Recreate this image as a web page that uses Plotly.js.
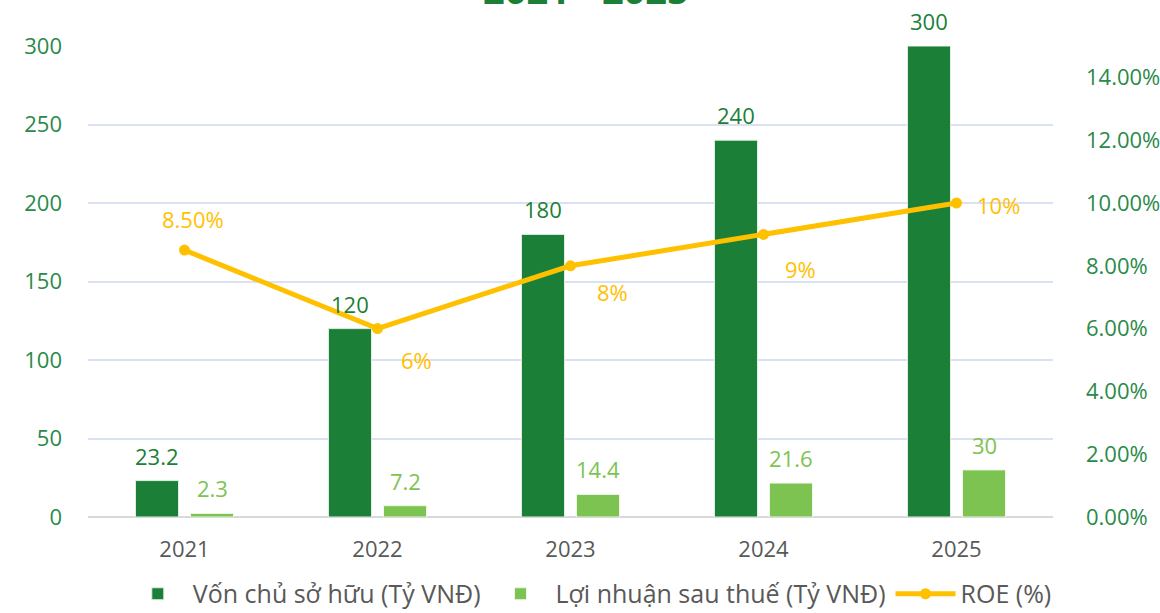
<!DOCTYPE html>
<html>
<head>
<meta charset="utf-8">
<script src="https://cdn.plot.ly/plotly-3.0.1.min.js"></script>
<style>html,body{margin:0;padding:0;background:#fff;}#chart{width:1160px;height:613px;}</style>
</head>
<body>
<div id="chart"></div>
<script>
const years = ['2021', '2022', '2023', '2024', '2025'];
const vonChuSoHuu = [23.2, 120, 180, 240, 300];
const loiNhuan = [2.3, 7.2, 14.4, 21.6, 30];
const roe = [0.085, 0.06, 0.08, 0.09, 0.10];
const roeLabels = ['8.50%', '6%', '8%', '9%', '10%'];
const leftTicks = [0, 50, 100, 150, 200, 250, 300];
const rightTicks = [0, 0.02, 0.04, 0.06, 0.08, 0.10, 0.12, 0.14];
const rightTickText = ['0.00%', '2.00%', '4.00%', '6.00%', '8.00%', '10.00%', '12.00%', '14.00%'];
const titleText = '2021 - 2025';

const FONT = 'Open Sans, Noto Sans, sans-serif';
const DARK = '#1B7F37';
const LIGHT = '#7DC352';
const GOLD = '#FFC000';

// label offsets (pixels) for ROE labels, Excel-like placement
const roeShift = [[8, 31], [39, -31], [42, -26], [37, -35], [42, -2]];

const traces = [
  {
    type: 'bar', name: 'Vốn chủ sở hữu (Tỷ VNĐ)', x: years, y: vonChuSoHuu,
    marker: {color: DARK, line: {color: '#dfeee3', width: 1}}, hoverinfo: 'x+y'
  },
  {
    type: 'bar', name: 'Lợi nhuận sau thuế (Tỷ VNĐ)', x: years, y: loiNhuan,
    marker: {color: LIGHT, line: {color: '#eef7e8', width: 1}}, hoverinfo: 'x+y'
  },
  {
    type: 'scatter', mode: 'lines+markers', name: 'ROE (%)', x: years, y: roe, yaxis: 'y2',
    line: {color: GOLD, width: 5}, marker: {color: GOLD, size: 11}, cliponaxis: false
  }
];

const annotations = [];
years.forEach((yr, i) => {
  annotations.push({
    x: i, y: vonChuSoHuu[i], xref: 'x', yref: 'y', text: String(vonChuSoHuu[i]),
    showarrow: false, xshift: -27.5, yshift: 8, yanchor: 'bottom',
    font: {family: FONT, size: 22, color: DARK}
  });
  annotations.push({
    x: i, y: loiNhuan[i], xref: 'x', yref: 'y', text: String(loiNhuan[i]),
    showarrow: false, xshift: 27.5, yshift: 8, yanchor: 'bottom',
    font: {family: FONT, size: 22, color: LIGHT}
  });
  annotations.push({
    x: i, y: roe[i], xref: 'x', yref: 'y2', text: roeLabels[i],
    showarrow: false, xshift: roeShift[i][0], yshift: roeShift[i][1],
    xanchor: 'center', yanchor: 'middle',
    font: {family: FONT, size: 22, color: GOLD}
  });
});
annotations.push({
  text: '<b>' + titleText + '</b>', xref: 'paper', yref: 'paper',
  x: 0.516, y: 1.062, xanchor: 'center', yanchor: 'bottom', showarrow: false,
  font: {family: FONT, size: 38, color: DARK}
});

const layout = {
  width: 1160, height: 613,
  margin: {l: 88, r: 107, t: 46, b: 96},
  paper_bgcolor: '#ffffff', plot_bgcolor: '#ffffff',
  font: {family: FONT, size: 22, color: '#595959'},
  barmode: 'group', bargap: 0.43, bargroupgap: 0.218,
  showlegend: true,
  legend: {
    orientation: 'h', x: 0.52, xanchor: 'center', xref: 'paper',
    y: 0.031, yanchor: 'middle', yref: 'container', bgcolor: 'rgba(0,0,0,0)',
    font: {family: FONT, size: 25, color: '#595959'}, itemwidth: 60, traceorder: 'normal'
  },
  annotations: annotations,
  xaxis: {
    type: 'category', range: [-0.5, 4.5], autorange: false,
    tickfont: {family: FONT, size: 22, color: '#595959'},
    showgrid: false, showline: false, ticks: '', ticklabelstandoff: 17, automargin: false
  },
  yaxis: {
    range: [0, 300], autorange: false, tickvals: leftTicks, ticktext: leftTicks.map(String),
    tickfont: {family: FONT, size: 22, color: '#2A8A4A'},
    showgrid: true, gridcolor: '#D9E1F2', gridwidth: 2,
    zeroline: true, zerolinecolor: '#D9D9D9', zerolinewidth: 2,
    showline: false, ticks: '', ticklabelstandoff: 25, automargin: false
  },
  yaxis2: {
    range: [0, 0.15], autorange: false, overlaying: 'y', side: 'right',
    tickvals: rightTicks, ticktext: rightTickText,
    tickfont: {family: FONT, size: 22, color: '#2A8A4A'},
    showgrid: false, zeroline: false, showline: false, ticks: '', ticklabelstandoff: 32, automargin: false
  }
};

Plotly.newPlot('chart', traces, layout, {displayModeBar: false, staticPlot: true});
</script>
</body>
</html>
